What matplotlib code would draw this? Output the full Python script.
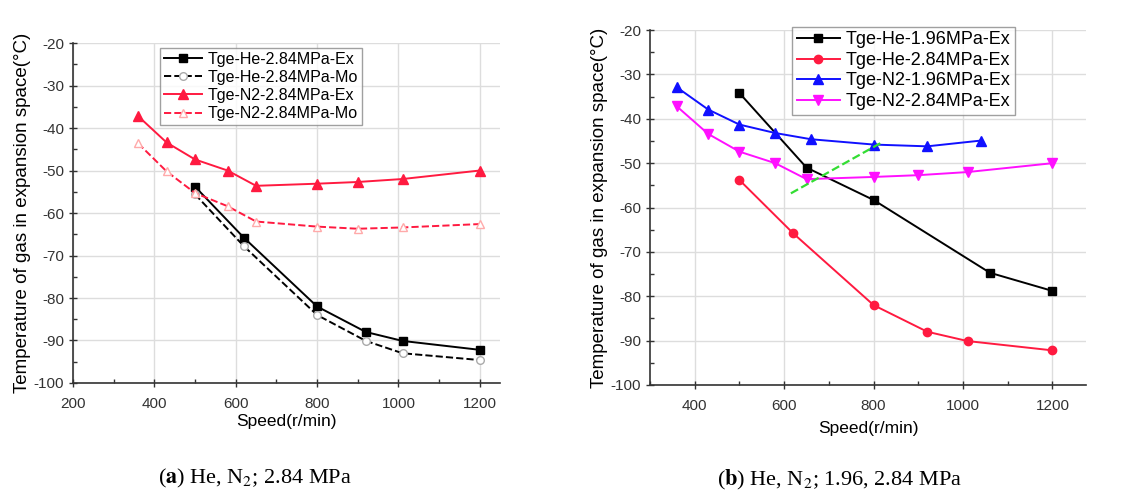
import matplotlib
matplotlib.use("Agg")
import matplotlib.pyplot as plt
from matplotlib.ticker import MultipleLocator

plt.rcParams['font.family'] = ['Liberation Sans', 'DejaVu Sans']
plt.rcParams['mathtext.fontset'] = 'stix'
plt.rcParams['axes.unicode_minus'] = False

# ---- panel (a): He, N2 at 2.84 MPa, experiment vs model
he_x = [500, 620, 800, 920, 1010, 1200]
he_ex = [-53.8, -65.8, -82.0, -88.0, -90.1, -92.2]
he_mo = [-55.6, -67.8, -84.0, -90.1, -93.0, -94.6]

n2_x = [360, 430, 500, 580, 650, 800, 900, 1010, 1200]
n2_ex = [-37.2, -43.4, -47.4, -50.0, -53.6, -53.1, -52.7, -52.0, -50.0]
n2_mo = [-43.6, -50.2, -55.3, -58.4, -62.0, -63.2, -63.7, -63.4, -62.6]

# ---- panel (b): experiments at 1.96 and 2.84 MPa
he196_x = [500, 650, 800, 1060, 1200]
he196 = [-34.2, -51.0, -58.3, -74.7, -78.8]
n2196_x = [360, 430, 500, 580, 660, 800, 920, 1040]
n2196 = [-32.9, -37.9, -41.3, -43.2, -44.6, -45.8, -46.2, -44.9]
green_x = [615, 815]
green_y = [-56.8, -45.5]

ylab = "Temperature of gas in expansion space(°C)"
red = "#ff1a40"

fig = plt.figure(figsize=(11.39, 4.97), dpi=100)
ax1 = fig.add_axes([0.0641, 0.2294, 0.375, 0.684])
ax2 = fig.add_axes([0.5707, 0.2254, 0.3828, 0.714])


def style_axes(ax, xlim, xmajor):
    ax.set_xlim(*xlim)
    ax.set_ylim(-100, -20)
    ax.xaxis.set_major_locator(MultipleLocator(xmajor))
    ax.xaxis.set_minor_locator(MultipleLocator(100))
    ax.yaxis.set_major_locator(MultipleLocator(10))
    ax.yaxis.set_minor_locator(MultipleLocator(5))
    ax.spines['top'].set_visible(False)
    ax.spines['right'].set_visible(False)
    for s in ('left', 'bottom'):
        ax.spines[s].set_linewidth(1.2)
        ax.spines[s].set_color('#333333')
    ax.tick_params(which='major', direction='inout', length=6, width=1,
                   labelsize=11, colors='#333333')
    ax.tick_params(axis='x', which='major', pad=7)
    ax.tick_params(which='minor', direction='in', length=3, width=1,
                   colors='#333333')
    ax.grid(True, which='major', color='#dddddd', lw=1)
    ax.set_axisbelow(True)


style_axes(ax1, (200, 1250), 200)
style_axes(ax2, (300, 1275), 200)

# panel (a)
ax1.plot(he_x, he_ex, '-', color='black', lw=1.4, marker='s', ms=5.5,
         label='Tge-He-2.84MPa-Ex')
ax1.plot(he_x, he_mo, '--', color='black', lw=1.4, marker='o', ms=5.5,
         mfc='white', mec='#aaaaaa', label='Tge-He-2.84MPa-Mo')
ax1.plot(n2_x, n2_ex, '-', color=red, lw=1.4, marker='^', ms=6.5,
         label='Tge-N2-2.84MPa-Ex')
ax1.plot(n2_x, n2_mo, '--', color=red, lw=1.4, marker='^', ms=5.5,
         mfc='white', mec='#ffaaaa', label='Tge-N2-2.84MPa-Mo')
ax1.legend(loc='upper left', bbox_to_anchor=(0.185, 1.01), fontsize=11.5,
           frameon=True, fancybox=False, edgecolor='#888888',
           handlelength=2.4, borderpad=0.25, labelspacing=0.2,
           handletextpad=0.3)
ax1.set_xlabel("Speed(r/min)", fontsize=12.5, labelpad=2)
ax1.set_ylabel(ylab, fontsize=13.5, labelpad=2)

# panel (b)
ax2.plot(he196_x, he196, '-', color='black', lw=1.4, marker='s', ms=5.5,
         label='Tge-He-1.96MPa-Ex')
ax2.plot(he_x, he_ex, '-', color=red, lw=1.4, marker='o', ms=6,
         label='Tge-He-2.84MPa-Ex')
ax2.plot(n2196_x, n2196, '-', color='#1010ff', lw=1.4, marker='^', ms=6.5,
         label='Tge-N2-1.96MPa-Ex')
ax2.plot(n2_x, n2_ex, '-', color='#ff10ff', lw=1.4, marker='v', ms=6.5,
         label='Tge-N2-2.84MPa-Ex')
ax2.plot(green_x, green_y, '--', color='#33dd33', lw=1.6)
ax2.legend(loc='upper left', bbox_to_anchor=(0.305, 1.035), fontsize=13,
           frameon=True, fancybox=False, edgecolor='#888888',
           handlelength=2.4, borderpad=0.25, labelspacing=0.2,
           handletextpad=0.3)
ax2.set_xlabel("Speed(r/min)", fontsize=12.5, labelpad=6)
ax2.set_ylabel(ylab, fontsize=13.5, labelpad=2)

# captions
fig.text(0.224, 0.038, r"($\mathbf{a}$) He, N$_2$; 2.84 MPa",
         ha='center', va='center', fontsize=16, family='Liberation Serif')
fig.text(0.737, 0.034, r"($\mathbf{b}$) He, N$_2$; 1.96, 2.84 MPa",
         ha='center', va='center', fontsize=16, family='Liberation Serif')

fig.savefig("out.png", dpi=100)
